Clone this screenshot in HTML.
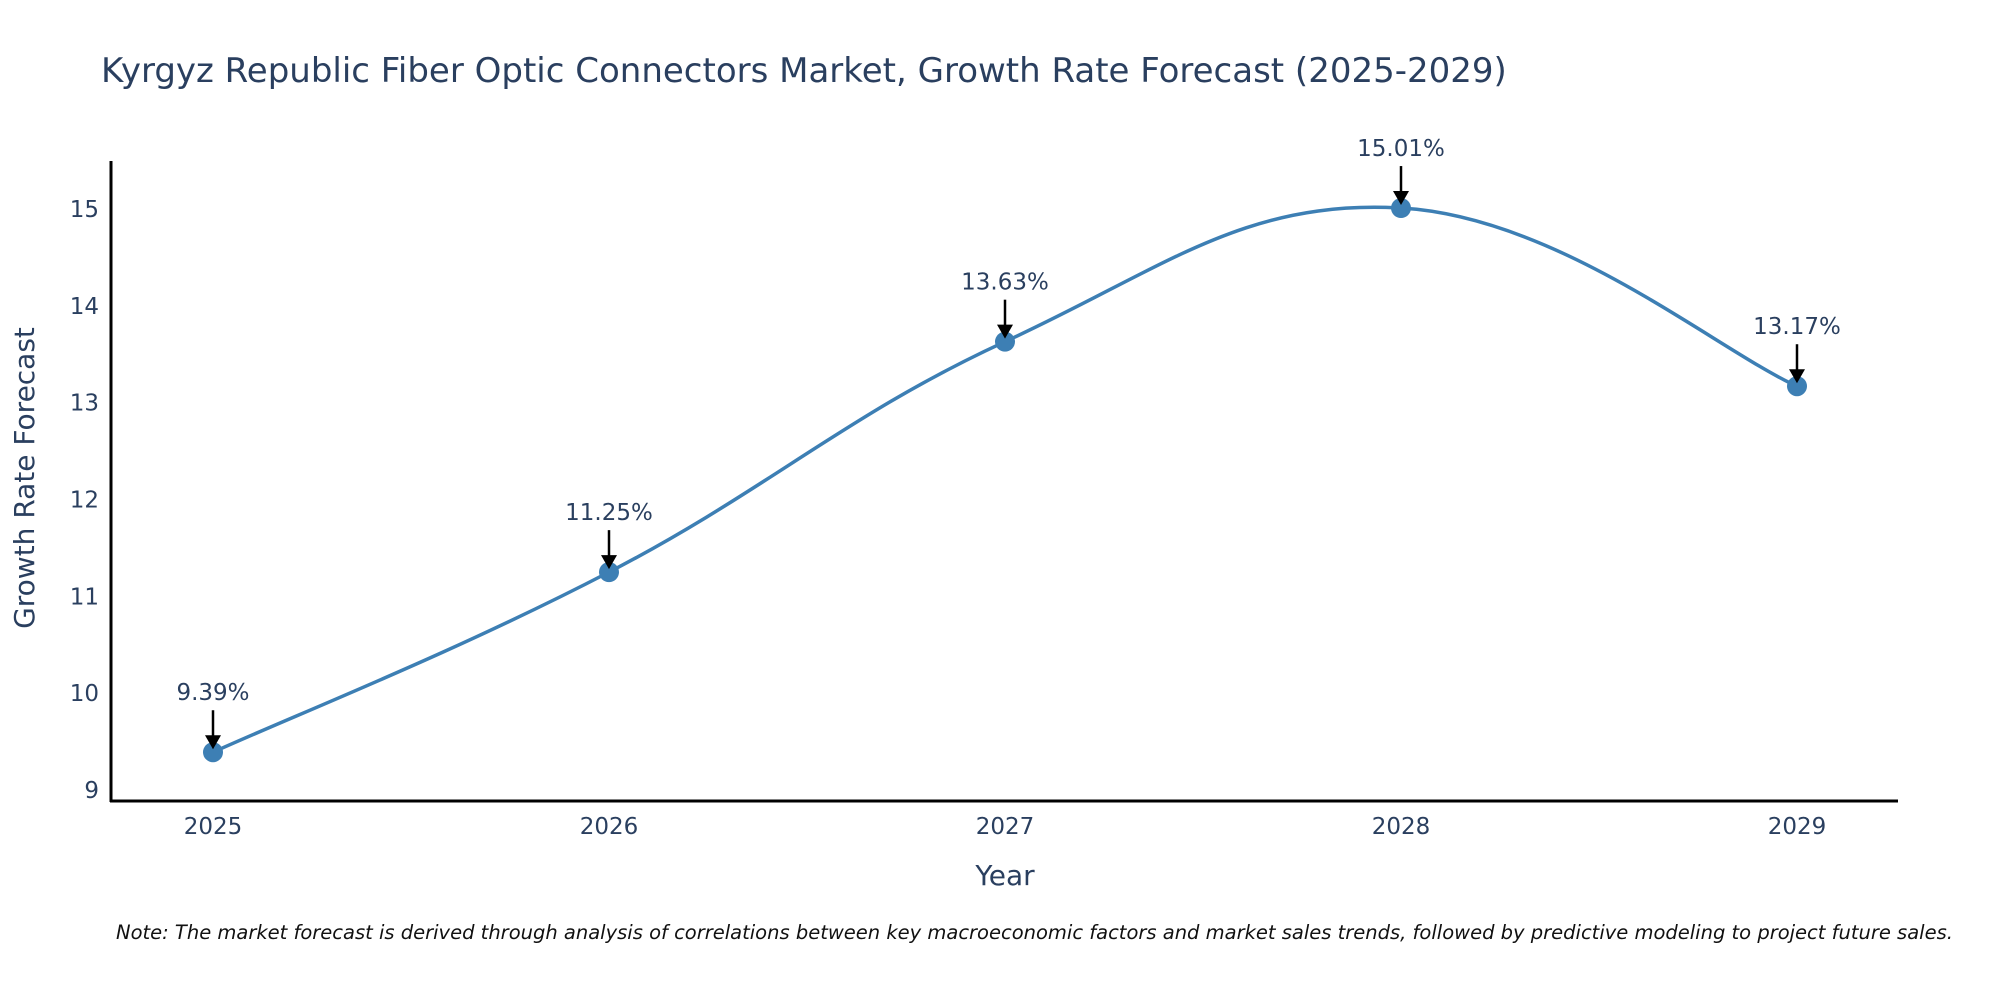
<!DOCTYPE html>
<html><head><meta charset="utf-8"><style>
body{margin:0;background:#fff;}
svg{display:block;font-family:"DejaVu Sans","Liberation Sans",sans-serif;}
</style></head><body>
<svg id="chart" width="2000" height="1000" viewBox="0 0 2000 1000">
<text x="101" y="82" font-size="34" fill="#2a3f5f">Kyrgyz Republic Fiber Optic Connectors Market, Growth Rate Forecast (2025-2029)</text>
<g id="yticks"></g>
<g id="xticks"></g>
<line x1="111" y1="161" x2="111" y2="802" stroke="#000" stroke-width="3"/>
<line x1="110" y1="801" x2="1898" y2="801" stroke="#000" stroke-width="3"/>
<path id="series" fill="none" stroke="#3d7fb4" stroke-width="3.5"/>
<g id="points"></g>
<g id="annots"></g>
<text transform="translate(34,478) rotate(-90)" text-anchor="middle" font-size="28" fill="#2a3f5f">Growth Rate Forecast</text>
<text x="1005" y="885" text-anchor="middle" font-size="28" fill="#2a3f5f">Year</text>
<text x="116" y="939" font-size="19.5" font-style="italic" fill="#111">Note: The market forecast is derived through analysis of correlations between key macroeconomic factors and market sales trends, followed by predictive modeling to project future sales.</text>
</svg>
<script>
const years=[2025,2026,2027,2028,2029];
const values=[9.39,11.25,13.63,15.01,13.17];
const valueLabels=["9.39%","11.25%","13.63%","15.01%","13.17%"];
const yTickValues=[9,10,11,12,13,14,15];
const NS="http://www.w3.org/2000/svg";
function xs(v){return 213+(v-2025)*396;}
function ys(v){return 790-(v-9)*96.83;}
function mk(tag,attrs,parent){const e=document.createElementNS(NS,tag);for(const k in attrs)e.setAttribute(k,attrs[k]);parent.appendChild(e);return e;}
const yt=document.getElementById('yticks');
yTickValues.forEach(v=>{const t=mk('text',{x:99,y:ys(v)+8,'text-anchor':'end','font-size':23,fill:'#2a3f5f'},yt);t.textContent=v;

});
const xt=document.getElementById('xticks');
years.forEach(v=>{const t=mk('text',{x:xs(v),y:834,'text-anchor':'middle','font-size':23,fill:'#2a3f5f'},xt);t.textContent=v;

});
const P=years.map((y,i)=>[xs(y),ys(values[i])]);
let d='M'+P[0][0]+','+P[0][1];
const s=0.2;
for(let i=0;i<P.length-1;i++){const p0=P[Math.max(i-1,0)],p1=P[i],p2=P[i+1],p3=P[Math.min(i+2,P.length-1)];
const c1=[p1[0]+(p2[0]-p0[0])*s,p1[1]+(p2[1]-p0[1])*s];
const c2=[p2[0]-(p3[0]-p1[0])*s,p2[1]-(p3[1]-p1[1])*s];
d+=' C'+c1+' '+c2+' '+p2;}
document.getElementById('series').setAttribute('d',d);
const pts=document.getElementById('points'),an=document.getElementById('annots');
P.forEach((p,i)=>{const c=mk('circle',{cx:p[0],cy:p[1],r:10,fill:'#3d7fb4'},pts);


const l=mk('line',{x1:p[0],y1:p[1]-42,x2:p[0],y2:p[1]-14,stroke:'#000','stroke-width':2.5},an);


const h=mk('polygon',{points:`${p[0]-8},${p[1]-17} ${p[0]+8},${p[1]-17} ${p[0]},${p[1]-3}`,fill:'#000'},an);


const t=mk('text',{x:p[0],y:p[1]-52,'text-anchor':'middle','font-size':23,fill:'#2a3f5f'},an);t.textContent=valueLabels[i];

});
</script>
</body></html>
